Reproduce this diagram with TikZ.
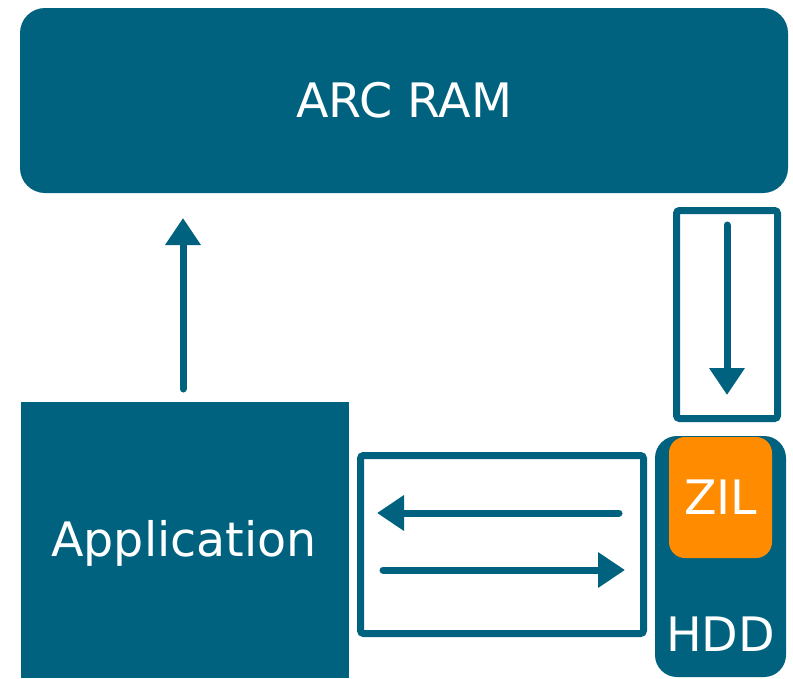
\documentclass[tikz,border=0pt]{standalone}
\usepackage{fontspec}
\setmainfont{DejaVu Sans}
\usetikzlibrary{arrows.meta}
\definecolor{teal}{RGB}{0,98,126}
\definecolor{zilorange}{RGB}{255,140,0}
\begin{document}
\begin{tikzpicture}[x=1pt,y=-1pt,
  label/.style={text=white,font=\fontsize{47.5}{47.5}\selectfont},
  block/.style={fill=teal,draw=none,inner sep=0pt,label},
  frame/.style={draw=teal,line width=7pt,rounded corners=3pt,inner sep=0pt},
  flow/.style={draw=teal,line width=7pt,line cap=round,
    -{Triangle[length=27pt,width=34pt]}}]
\useasboundingbox (0,0) rectangle (793,678);
% memory cache
\node[block,rounded corners=25pt,minimum width=768pt,minimum height=185pt]
  (arc) at (404,100.5) {ARC RAM};
% application
\node[block,minimum width=328pt,minimum height=276pt] (app) at (185,540) {};
\node[label] (apptext) at (184,543) {Application};
% disk with intent log
\node[block,rounded corners=22pt,minimum width=131pt,minimum height=241pt]
  (hdd) at (720.5,556.5) {};
\node[label,anchor=base] (hddtext) at (720.5,651) {HDD};
\node[fill=zilorange,rounded corners=16pt,inner sep=0pt,label,
  minimum width=103pt,minimum height=121pt] (zil) at (720.5,497.5) {ZIL};
% transfer frames
\node[frame,minimum width=101pt,minimum height=208pt] (flush) at (727,314.5) {};
\node[frame,minimum width=283pt,minimum height=178pt] (io) at (502,544.5) {};
% data flows
\coordinate (upfrom) at (183,389);
\coordinate (upto) at (183,218);
\draw[flow] (upfrom) -- (upto);
\coordinate (downfrom) at (727,225);
\coordinate (downto) at (727,395);
\draw[flow] (downfrom) -- (downto);
\coordinate (rdfrom) at (619,513);
\coordinate (rdto) at (377,513);
\draw[flow] (rdfrom) -- (rdto);
\coordinate (wrfrom) at (383,570);
\coordinate (wrto) at (625,570);
\draw[flow] (wrfrom) -- (wrto);
\end{tikzpicture}
\end{document}
